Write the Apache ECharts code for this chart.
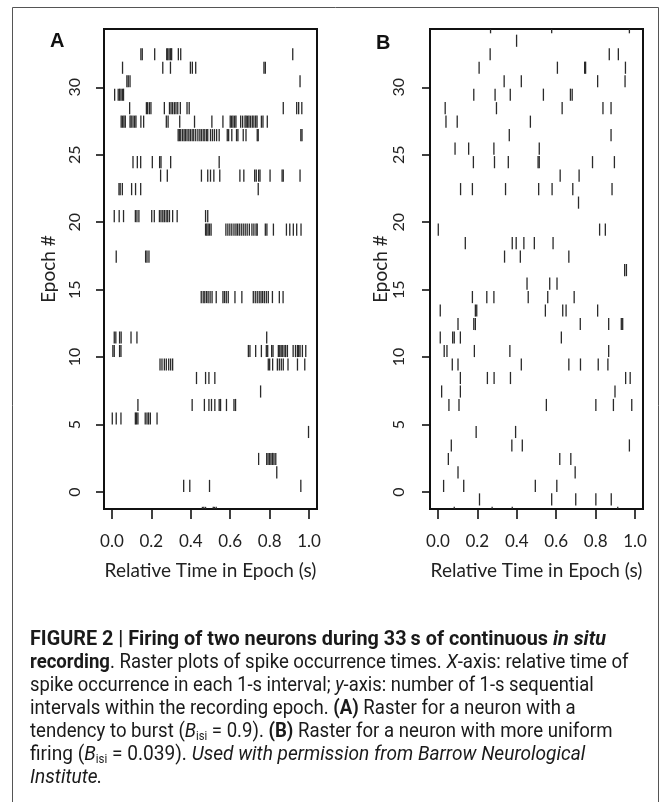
<!DOCTYPE html>
<html>
<head>
<meta charset="utf-8">
<script src="https://cdn.jsdelivr.net/npm/echarts@6/dist/echarts.min.js"></script>
<style>
  html, body { margin: 0; padding: 0; background: #fff; }
  #chart { width: 671px; height: 802px; }
</style>
</head>
<body>
<div id="chart"></div>
<script>
// Spike raster data: epoch (row) numbers and relative spike times (s) within each epoch.
const xTicks = [0, 0.2, 0.4, 0.6, 0.8, 1.0];
const yTicks = [0, 5, 10, 15, 20, 25, 30];

// Neuron A (bursting)
const rowsA = [32, 31, 30, 29, 28, 27, 26, 24, 23, 22, 20, 19, 17, 14, 11, 10, 9, 8, 7, 6, 5, 4, 2, 1, 0, -2];
const spikesA = [
  [0.147, 0.154, 0.217, 0.278, 0.283, 0.290, 0.297, 0.303, 0.337, 0.349, 0.917],
  [0.054, 0.258, 0.297, 0.398, 0.408, 0.425, 0.771, 0.778],
  [0.076, 0.083, 0.092, 0.954],
  [0.014, 0.032, 0.039, 0.046, 0.053, 0.059],
  [0.090, 0.175, 0.181, 0.190, 0.198, 0.266, 0.292, 0.300, 0.308, 0.317, 0.325, 0.334, 0.347, 0.381, 0.392, 0.869, 0.937, 0.947, 0.963],
  [0.047, 0.054, 0.061, 0.068, 0.092, 0.098, 0.107, 0.115, 0.122, 0.147, 0.161, 0.276, 0.285, 0.344, 0.419, 0.507, 0.563, 0.600, 0.607, 0.614, 0.622, 0.629, 0.653, 0.663, 0.675, 0.681, 0.688, 0.695, 0.703, 0.712, 0.720, 0.729, 0.736, 0.758, 0.766, 0.788],
  [0.336, 0.342, 0.349, 0.358, 0.366, 0.373, 0.381, 0.390, 0.398, 0.407, 0.415, 0.425, 0.436, 0.446, 0.454, 0.463, 0.471, 0.480, 0.486, 0.500, 0.510, 0.520, 0.531, 0.544, 0.585, 0.592, 0.608, 0.632, 0.639, 0.666, 0.680, 0.737, 0.742, 0.958, 0.964],
  [0.107, 0.129, 0.146, 0.205, 0.242, 0.249, 0.298, 0.544],
  [0.247, 0.281, 0.454, 0.486, 0.500, 0.517, 0.547, 0.649, 0.669, 0.724, 0.732, 0.744, 0.751, 0.802, 0.863, 0.869, 0.954],
  [0.036, 0.042, 0.053, 0.100, 0.120, 0.146, 0.742],
  [0.012, 0.037, 0.059, 0.119, 0.127, 0.137, 0.202, 0.215, 0.241, 0.249, 0.258, 0.266, 0.275, 0.283, 0.292, 0.308, 0.331, 0.475, 0.486],
  [0.475, 0.481, 0.488, 0.495, 0.503, 0.578, 0.588, 0.598, 0.608, 0.619, 0.629, 0.637, 0.646, 0.656, 0.666, 0.676, 0.686, 0.697, 0.710, 0.720, 0.731, 0.737, 0.778, 0.786, 0.819, 0.885, 0.902, 0.920, 0.937, 0.959],
  [0.022, 0.171, 0.178, 0.188],
  [0.453, 0.463, 0.471, 0.480, 0.488, 0.498, 0.508, 0.529, 0.563, 0.571, 0.580, 0.590, 0.624, 0.659, 0.717, 0.727, 0.737, 0.747, 0.756, 0.764, 0.773, 0.783, 0.793, 0.814, 0.849, 0.868],
  [0.012, 0.020, 0.039, 0.047, 0.097, 0.127, 0.785],
  [0.005, 0.012, 0.039, 0.046, 0.692, 0.700, 0.729, 0.758, 0.783, 0.790, 0.810, 0.817, 0.844, 0.851, 0.858, 0.864, 0.873, 0.881, 0.890, 0.919, 0.931, 0.941, 0.947, 0.954, 0.966, 0.983],
  [0.244, 0.254, 0.266, 0.276, 0.288, 0.298, 0.308, 0.793, 0.800, 0.815, 0.839, 0.849, 0.859, 0.869, 0.893, 0.941, 0.978],
  [0.429, 0.475, 0.492, 0.522],
  [0.754],
  [0.132, 0.407, 0.469, 0.492, 0.505, 0.522, 0.544, 0.551, 0.581, 0.619, 0.627],
  [0.002, 0.022, 0.046, 0.119, 0.125, 0.132, 0.169, 0.178, 0.186, 0.195, 0.229],
  [0.997],
  [0.744, 0.785, 0.792, 0.800, 0.807, 0.815, 0.822, 0.831],
  [0.836],
  [0.364, 0.395, 0.495, 0.958],
  [0.459, 0.466, 0.475, 0.514, 0.520, 0.529]
];

// Neuron B (more uniform firing)
const rowsB = [34, 33, 32, 31, 30, 29, 28, 27, 26, 25, 24, 23, 22, 21, 19, 18, 17, 16, 15, 14, 13, 12, 11, 10, 9, 8, 7, 6, 4, 3, 2, 1, 0, -1, -2];
const spikesB = [
  [0.267, 0.577, 0.971],
  [0.399],
  [0.265, 0.869, 0.915],
  [0.209, 0.606, 0.744, 0.749, 0.951],
  [0.336, 0.423, 0.810, 0.949],
  [0.182, 0.290, 0.367, 0.535, 0.672, 0.681],
  [0.037, 0.297, 0.630, 0.837, 0.878],
  [0.041, 0.098, 0.469],
  [0.362, 0.878],
  [0.087, 0.156, 0.284, 0.514],
  [0.180, 0.287, 0.357, 0.508, 0.514, 0.784, 0.895],
  [0.620, 0.716],
  [0.115, 0.175, 0.343, 0.511, 0.579, 0.684, 0.883],
  [0.713],
  [0.002, 0.820, 0.849],
  [0.139, 0.377, 0.397, 0.436, 0.489, 0.584],
  [0.338, 0.418, 0.664],
  [0.947, 0.956],
  [0.452, 0.567, 0.604],
  [0.175, 0.248, 0.284, 0.458, 0.557, 0.691],
  [0.012, 0.190, 0.197, 0.545, 0.633, 0.650, 0.810],
  [0.102, 0.182, 0.190, 0.722, 0.866, 0.930, 0.937],
  [0.012, 0.075, 0.083, 0.114, 0.626],
  [0.032, 0.046, 0.185, 0.365, 0.866],
  [0.073, 0.102, 0.423, 0.664, 0.723, 0.813, 0.862],
  [0.114, 0.251, 0.285, 0.368, 0.952, 0.975],
  [0.019, 0.114, 0.898],
  [0.056, 0.107, 0.550, 0.801, 0.890, 0.983],
  [0.194, 0.394],
  [0.068, 0.375, 0.428, 0.971],
  [0.053, 0.618, 0.674],
  [0.102, 0.696],
  [0.029, 0.131, 0.494, 0.603],
  [0.211, 0.577, 0.699, 0.801, 0.879],
  [0.083, 0.275, 0.377, 0.912]
];

function toPoints(rows, spikes) {
  const pts = [];
  rows.forEach(function (r, i) {
    spikes[i].forEach(function (t) { pts.push([t, r]); });
  });
  return pts;
}

// Each spike is a short vertical tick spanning most of its epoch row.
const TICK_SPAN = 0.9;
function renderSpike(params, api) {
  const t = api.value(0), r = api.value(1);
  const p0 = api.coord([t, r]);
  const p1 = api.coord([t, r + TICK_SPAN]);
  const cs = params.coordSys;
  const top = cs.y, bottom = cs.y + cs.height;
  const y0 = Math.min(Math.max(p0[1], top), bottom);
  const y1 = Math.min(Math.max(p1[1], top), bottom);
  if (Math.abs(y0 - y1) < 0.01) return null;
  return {
    type: 'line',
    shape: { x1: p0[0], y1: y0, x2: p1[0], y2: y1 },
    style: { stroke: '#2a2a2a', lineWidth: 1.3 }
  };
}

const AXIS_FONT = 'Lato, "Open Sans", sans-serif';
const CAP_FONT = 'Roboto, "Liberation Sans", sans-serif';

function xAxisFor(gridIndex) {
  return {
    type: 'value', gridIndex: gridIndex, min: -0.04, max: 1.04,
    axisLine: { show: false, onZero: false },
    splitLine: { show: false },
    axisTick: { show: true, customValues: xTicks, length: 10, inside: false,
      lineStyle: { color: '#111', width: 1.6 } },
    axisLabel: { customValues: xTicks, margin: 24, fontSize: 17, color: '#222',
      fontFamily: AXIS_FONT, formatter: function (v) { return v.toFixed(1); } },
    name: 'Relative Time in Epoch (s)', nameLocation: 'middle', nameGap: 52,
    nameTextStyle: { fontSize: 19, color: '#222', fontFamily: AXIS_FONT }
  };
}
function yAxisFor(gridIndex, labelMargin, nameGap) {
  return {
    type: 'value', gridIndex: gridIndex, min: -1.26, max: 34.32,
    axisLine: { show: false, onZero: false },
    splitLine: { show: false },
    axisTick: { show: true, customValues: yTicks, length: 8, inside: false,
      lineStyle: { color: '#111', width: 1.6 } },
    axisLabel: { customValues: yTicks, rotate: 90, margin: labelMargin, fontSize: 16, color: '#222',
      fontFamily: AXIS_FONT },
    name: 'Epoch #', nameLocation: 'middle', nameRotate: 90, nameGap: nameGap,
    nameTextStyle: { fontSize: 19, color: '#222', fontFamily: AXIS_FONT }
  };
}

// Caption: one rich-text line per row, horizontally condensed through a group scale.
const captionLines = [
  '{b|FIGURE 2 | Firing of two neurons during 33\u2009s of continuous }{bi|in situ}',
  '{b|recording}. Raster plots of spike occurrence times. {i|X}-axis: relative time of',
  'spike occurrence in each 1-s interval; {i|y}-axis: number of 1-s sequential',
  'intervals within the recording epoch. {b|(A)} Raster for a neuron with a',
  'tendency to burst ({i|B}{sub|isi} = 0.9). {b|(B)} Raster for a neuron with more uniform',
  'firing ({i|B}{sub|isi} = 0.039). {i|Used with permission from Barrow Neurological}',
  '{i|Institute.}'
];
const captionScale = [0.99, 0.93, 0.92, 0.93, 0.93, 0.955, 0.955];
const capRich = {
  b: { fontWeight: 'bold', fontFamily: CAP_FONT, fontSize: 20, lineHeight: 23 },
  bi: { fontWeight: 'bold', fontStyle: 'italic', fontFamily: CAP_FONT, fontSize: 20, lineHeight: 23 },
  i: { fontStyle: 'italic', fontFamily: CAP_FONT, fontSize: 20, lineHeight: 23 },
  sub: { fontFamily: CAP_FONT, fontSize: 12, verticalAlign: 'bottom', lineHeight: 17 }
};
const captionGraphics = captionLines.map(function (line, i) {
  return {
    type: 'group', x: 30, y: 628 + i * 23, scaleX: captionScale[i],
    children: [{
      type: 'text', x: 0, y: 0,
      style: { text: line, rich: capRich, fill: '#1a1a1a', fontFamily: CAP_FONT, fontSize: 20, lineHeight: 23 }
    }]
  };
});

const chart = echarts.init(document.getElementById('chart'), null, { renderer: 'canvas' });
chart.setOption({
  backgroundColor: '#fff',
  animation: false,
  grid: [
    { left: 104, top: 29, width: 213, height: 480, show: true, borderColor: '#111', borderWidth: 2, backgroundColor: 'transparent' },
    { left: 430, top: 29, width: 213, height: 480, show: true, borderColor: '#111', borderWidth: 2, backgroundColor: 'transparent' }
  ],
  xAxis: [xAxisFor(0), xAxisFor(1)],
  yAxis: [yAxisFor(0, 21, 46), yAxisFor(1, 23, 38)],
  series: [
    { type: 'custom', xAxisIndex: 0, yAxisIndex: 0, data: toPoints(rowsA, spikesA), renderItem: renderSpike, silent: true },
    { type: 'custom', xAxisIndex: 1, yAxisIndex: 1, data: toPoints(rowsB, spikesB), renderItem: renderSpike, silent: true }
  ],
  graphic: [
    { type: 'rect', shape: { x: 12.5, y: 7.5, width: 646, height: 820 }, style: { fill: 'none', stroke: '#555', lineWidth: 1 }, silent: true },
    { type: 'text', left: 50, top: 31, style: { text: 'A', fontSize: 20, fontWeight: 'bold', fill: '#111', fontFamily: '"Liberation Sans", Arial, sans-serif' } },
    { type: 'text', left: 376, top: 33, style: { text: 'B', fontSize: 20, fontWeight: 'bold', fill: '#111', fontFamily: '"Liberation Sans", Arial, sans-serif' } }
  ].concat(captionGraphics)
});
</script>
</body>
</html>
